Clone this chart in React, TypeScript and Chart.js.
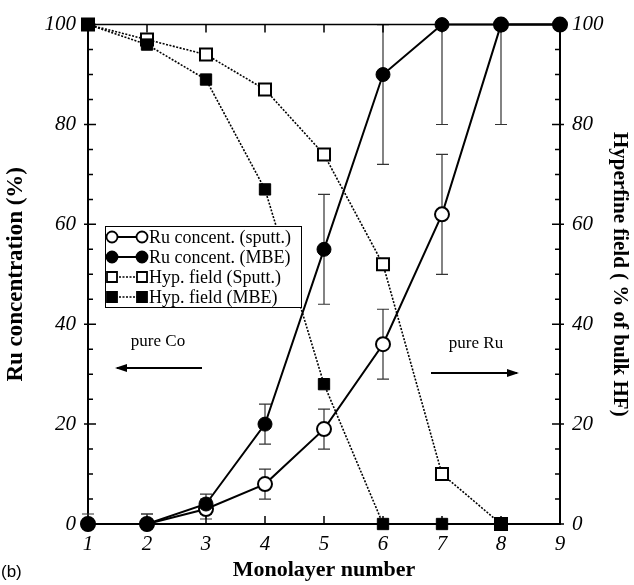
import React, { useEffect, useRef } from "react";
import { Chart, registerables } from "chart.js";

Chart.register(...registerables);

const monolayers = [1, 2, 3, 4, 5, 6, 7, 8, 9];
const ruSputt = [0, 0, 3, 8, 19, 36, 62, 100, 100];
const ruSputtErrLow = [null, 0, 1, 5, 15, 29, 50, 80, null];
const ruSputtErrHigh = [null, 2, 5, 11, 23, 43, 74, 100, null];
const ruMBE = [0, 0, 4, 20, 55, 90, 100, 100, 100];
const ruMBEErrLow = [0, 0, 2, 16, 44, 72, 80, null, null];
const ruMBEErrHigh = [2, 2, 6, 24, 66, 100, 100, null, null];
const hfSputt = [100, 97, 94, 87, 74, 52, 10, 0];
const hfMBE = [100, 96, 89, 67, 28, 0, 0, 0];
const xTicks = [1, 2, 3, 4, 5, 6, 7, 8, 9];
const yTicks = [0, 20, 40, 60, 80, 100];
const legendLabels = [
  "Ru concent. (sputt.)",
  "Ru concent. (MBE)",
  "Hyp. field (Sputt.)",
  "Hyp. field (MBE)",
];

const SERIF = "'Liberation Serif', 'Times New Roman', serif";

const extrasPlugin = {
  id: "extras",
  beforeDatasetsDraw(chart: any) {
    const ctx = chart.ctx;
    const xs = chart.scales.x;
    const ys = chart.scales.y;
    ctx.save();
    ctx.strokeStyle = "#333";
    ctx.lineWidth = 1.2;
    const drawErr = (lows: any[], highs: any[]) => {
      lows.forEach((lo, i) => {
        const hi = highs[i];
        if (lo == null || hi == null) return;
        const px = xs.getPixelForValue(monolayers[i]);
        const pl = ys.getPixelForValue(lo);
        const ph = ys.getPixelForValue(hi);
        ctx.beginPath();
        ctx.moveTo(px, pl);
        ctx.lineTo(px, ph);
        ctx.moveTo(px - 6, pl);
        ctx.lineTo(px + 6, pl);
        ctx.moveTo(px - 6, ph);
        ctx.lineTo(px + 6, ph);
        ctx.stroke();
      });
    };
    drawErr(ruSputtErrLow, ruSputtErrHigh);
    drawErr(ruMBEErrLow, ruMBEErrHigh);
    ctx.restore();
  },
  afterDraw(chart: any) {
    const ctx = chart.ctx;
    const xs = chart.scales.x;
    const ys = chart.scales.y;
    const area = chart.chartArea;
    ctx.save();
    ctx.strokeStyle = "#000";
    ctx.lineWidth = 1.5;
    ctx.beginPath();
    ctx.moveTo(area.left, area.top);
    ctx.lineTo(area.right, area.top);
    ctx.stroke();
    xTicks.forEach((v) => {
      const px = xs.getPixelForValue(v);
      ctx.beginPath();
      ctx.moveTo(px, area.bottom);
      ctx.lineTo(px, area.bottom - 8);
      ctx.moveTo(px, area.top);
      ctx.lineTo(px, area.top + 8);
      ctx.stroke();
    });
    for (let v = 0; v <= 100; v += 5) {
      const py = ys.getPixelForValue(v);
      const major = v % 20 === 0;
      const inLen = major ? 8 : 5;
      const outLen = major ? 4 : 0;
      ctx.beginPath();
      ctx.moveTo(area.left - outLen, py);
      ctx.lineTo(area.left + inLen, py);
      ctx.moveTo(area.right + outLen, py);
      ctx.lineTo(area.right - inLen, py);
      ctx.stroke();
    }

    ctx.fillStyle = "#000";
    ctx.font = `17px ${SERIF}`;
    ctx.textAlign = "center";
    ctx.textBaseline = "middle";
    ctx.fillText("pure Co", 158, 342);
    ctx.fillText("pure Ru", 476, 344);
    const arrow = (x1: number, x2: number, y: number) => {
      ctx.lineWidth = 2;
      ctx.beginPath();
      ctx.moveTo(x1, y);
      ctx.lineTo(x2, y);
      ctx.stroke();
      const dir = x2 > x1 ? 1 : -1;
      ctx.beginPath();
      ctx.moveTo(x2 + dir * 2, y);
      ctx.lineTo(x2 - dir * 10, y - 4);
      ctx.lineTo(x2 - dir * 10, y + 4);
      ctx.closePath();
      ctx.fill();
    };
    arrow(202, 117, 368);
    arrow(431, 517, 373);

    const bx = 105, by = 226, bw = 196, bh = 81;
    ctx.fillStyle = "#fff";
    ctx.fillRect(bx, by, bw, bh);
    ctx.lineWidth = 1;
    ctx.strokeStyle = "#000";
    ctx.strokeRect(bx + 0.5, by + 0.5, bw, bh);
    const rowY = [237, 257, 277, 297];
    const m1 = 112, m2 = 142;
    legendLabels.forEach((label, i) => {
      const y = rowY[i];
      const isCircle = i < 2;
      const filled = i % 2 === 1;
      ctx.strokeStyle = "#000";
      ctx.lineWidth = isCircle ? 2 : 1.5;
      ctx.setLineDash(isCircle ? [] : [2, 1.5]);
      ctx.beginPath();
      ctx.moveTo(m1, y);
      ctx.lineTo(m2, y);
      ctx.stroke();
      ctx.setLineDash([]);
      [m1, m2].forEach((mx) => {
        ctx.beginPath();
        if (isCircle) {
          ctx.arc(mx, y, 5.5, 0, Math.PI * 2);
        } else {
          ctx.rect(mx - 5, y - 5, 10, 10);
        }
        ctx.fillStyle = filled ? "#000" : "#fff";
        ctx.fill();
        ctx.lineWidth = 1.8;
        ctx.stroke();
      });
      ctx.fillStyle = "#000";
      ctx.font = `18px ${SERIF}`;
      ctx.textAlign = "left";
      ctx.textBaseline = "middle";
      ctx.fillText(label, 149, y + 1);
    });

    ctx.font = "17px 'Liberation Sans', Arial, sans-serif";
    ctx.textAlign = "left";
    ctx.fillText("(b)", 1, 572);
    ctx.restore();
  },
};

export default function App() {
  const ref = useRef<HTMLCanvasElement | null>(null);
  useEffect(() => {
    if (!ref.current) return;
    const tickFont = { family: SERIF, size: 21, style: "italic" as const };
    const titleFont = { family: SERIF, size: 22, weight: "bold" as const };
    const chart = new Chart(ref.current, {
      type: "line",
      data: {
        datasets: [
          {
            label: legendLabels[1],
            data: monolayers.map((x, i) => ({ x, y: ruMBE[i] })),
            borderColor: "#000",
            borderWidth: 2,
            pointStyle: "circle",
            pointRadius: 7,
            pointBackgroundColor: "#000",
            pointBorderColor: "#000",
            pointBorderWidth: 1,
            clip: false,
            order: 0,
          },
          {
            label: legendLabels[3],
            data: hfMBE.map((y, i) => ({ x: monolayers[i], y })),
            borderColor: "#000",
            borderWidth: 1.6,
            borderDash: [2, 1.5],
            pointStyle: "rect",
            pointRadius: 8,
            pointBackgroundColor: "#000",
            pointBorderColor: "#000",
            pointBorderWidth: 1,
            yAxisID: "y2",
            clip: false,
            order: 1,
          },
          {
            label: legendLabels[0],
            data: monolayers.map((x, i) => ({ x, y: ruSputt[i] })),
            borderColor: "#000",
            borderWidth: 2,
            pointStyle: "circle",
            pointRadius: 7,
            pointBackgroundColor: "#fff",
            pointBorderColor: "#000",
            pointBorderWidth: 2,
            clip: false,
            order: 2,
          },
          {
            label: legendLabels[2],
            data: hfSputt.map((y, i) => ({ x: monolayers[i], y })),
            borderColor: "#000",
            borderWidth: 1.6,
            borderDash: [2, 1.5],
            pointStyle: "rect",
            pointRadius: 8.5,
            pointBackgroundColor: "#fff",
            pointBorderColor: "#000",
            pointBorderWidth: 2,
            yAxisID: "y2",
            clip: false,
            order: 3,
          },
        ],
      },
      options: {
        responsive: false,
        animation: false,
        layout: { padding: { top: 18, left: 0, right: 0, bottom: 0 } },
        plugins: { legend: { display: false }, tooltip: { enabled: false } },
        elements: { line: { tension: 0 } },
        scales: {
          x: {
            type: "linear",
            position: "bottom",
            min: 1,
            max: 9,
            afterBuildTicks: (s: any) => {
              s.ticks = xTicks.map((v) => ({ value: v }));
            },
            afterFit: (s: any) => {
              s.height = 61;
            },
            ticks: { font: tickFont, color: "#000", padding: 8 },
            grid: { display: false, drawTicks: false },
            border: { display: true, color: "#000", width: 2 },
            title: {
              display: true,
              text: "Monolayer number",
              font: titleFont,
              color: "#000",
              padding: { top: 0, bottom: 1 },
            },
          },
          y: {
            type: "linear",
            position: "left",
            min: 0,
            max: 100,
            afterBuildTicks: (s: any) => {
              s.ticks = yTicks.map((v) => ({ value: v }));
            },
            afterFit: (s: any) => {
              s.width = 88;
            },
            ticks: { font: tickFont, color: "#000", padding: 12 },
            grid: { display: false, drawTicks: false },
            border: { display: true, color: "#000", width: 2 },
            title: {
              display: true,
              text: "Ru concentration (%)",
              font: { family: SERIF, size: 23, weight: "bold" },
              color: "#000",
              padding: { top: 2, bottom: 0 },
            },
          },
          y2: {
            type: "linear",
            position: "right",
            min: 0,
            max: 100,
            afterBuildTicks: (s: any) => {
              s.ticks = yTicks.map((v) => ({ value: v }));
            },
            afterFit: (s: any) => {
              s.width = 74;
            },
            ticks: { font: tickFont, color: "#000", padding: 12 },
            grid: { display: false, drawTicks: false },
            border: { display: true, color: "#000", width: 2 },
            title: {
              display: true,
              text: "Hyperfine field ( % of bulk HF)",
              font: { family: SERIF, size: 21, weight: "bold" },
              color: "#000",
              padding: { top: 2, bottom: 0 },
            },
          },
        },
      },
      plugins: [extrasPlugin],
    } as any);
    return () => chart.destroy();
  }, []);
  return (
    <div style={{ position: "absolute", left: 0, top: 0, width: 634, height: 585, background: "#fff" }}>
      <canvas ref={ref} width={634} height={585} style={{ display: "block" }} />
    </div>
  );
}
